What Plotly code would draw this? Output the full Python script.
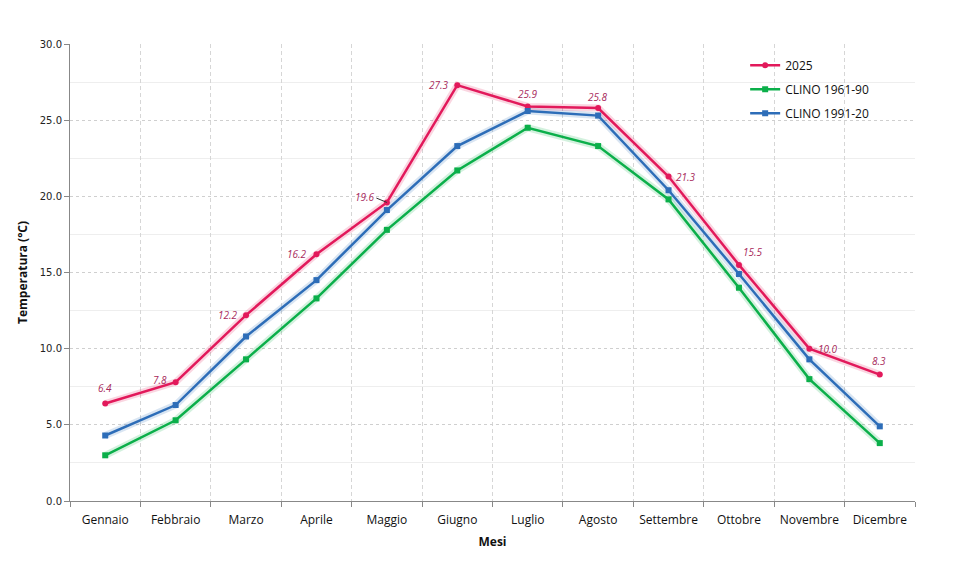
import plotly.graph_objects as go

months = ["Gennaio", "Febbraio", "Marzo", "Aprile", "Maggio", "Giugno",
          "Luglio", "Agosto", "Settembre", "Ottobre", "Novembre", "Dicembre"]
t2025 = [6.4, 7.8, 12.2, 16.2, 19.6, 27.3, 25.9, 25.8, 21.3, 15.5, 10.0, 8.3]
clino6190 = [3.0, 5.3, 9.3, 13.3, 17.8, 21.7, 24.5, 23.3, 19.8, 14.0, 8.0, 3.8]
clino9120 = [4.3, 6.3, 10.8, 14.5, 19.1, 23.3, 25.6, 25.3, 20.4, 14.9, 9.3, 4.9]

C25 = "#E2195B"
CG = "#0BAF4A"
CB = "#2D6DB8"

fig = go.Figure()

# soft glow under lines
for vals, col in [(clino6190, "rgba(11,175,74,0.18)"), (clino9120, "rgba(45,109,184,0.18)"),
                  (t2025, "rgba(226,25,91,0.18)")]:
    fig.add_trace(go.Scatter(x=months, y=vals, mode="lines", line=dict(color=col, width=7),
                             showlegend=False, hoverinfo="skip"))

fig.add_trace(go.Scatter(x=months, y=t2025, name="2025", mode="lines+markers",
                         legendgroup="a",
                         line=dict(color=C25, width=2.5),
                         marker=dict(symbol="circle", size=6, color=C25)))
fig.add_trace(go.Scatter(x=months, y=clino6190, name="CLINO 1961-90", mode="lines+markers",
                         legendgroup="b",
                         line=dict(color=CG, width=2.5),
                         marker=dict(symbol="square", size=6, color=CG)))
fig.add_trace(go.Scatter(x=months, y=clino9120, name="CLINO 1991-20", mode="lines+markers",
                         legendgroup="c",
                         line=dict(color=CB, width=2.5),
                         marker=dict(symbol="square", size=6, color=CB)))

# label offsets (xshift, yshift) per point
offsets = [(0, 16), (-16, 2), (-18, 0), (-19, 0), (-22, 5), (-18, 0),
           (0, 12), (0, 11), (17, 0), (14, 13), (19, 0), (-1, 14)]
for m, v, (dx, dy) in zip(months, t2025, offsets):
    fig.add_annotation(x=m, y=v, text=f"<i>{v:.1f}</i>", showarrow=False, xshift=dx, yshift=dy,
                       font=dict(family="Open Sans, Arial", size=10, color="#A82A5C"))

# leader line for 19.6
fig.add_annotation(x="Maggio", y=19.6, ax=-12, ay=-5, axref="pixel", ayref="pixel",
                   text="", showarrow=True, arrowhead=0, arrowwidth=1, arrowcolor="#333")

fig.update_layout(
    width=980, height=576,
    paper_bgcolor="white", plot_bgcolor="white",
    margin=dict(l=62, r=73, t=36, b=83),
    font=dict(family="DejaVu Sans, Verdana", size=10, color="#222"),
    legend=dict(x=0.799, y=0.985, xanchor="left", yanchor="top",
                bgcolor="rgba(255,255,255,0)", tracegroupgap=5,
                font=dict(family="Open Sans, Arial", size=12, color="#111"),
                itemwidth=30),
    xaxis=dict(
        title=dict(text="<b>Mesi</b>", font=dict(family="Open Sans, Arial", size=12, color="#111"),
                   standoff=10),
        tickson="boundaries", ticks="outside", ticklen=5, tickcolor="#888",
        ticklabelstandoff=8,
        showline=True, linecolor="#888", linewidth=1,
        showgrid=True, gridcolor="#D6D6D6", griddash="4px,3px", gridwidth=1,
        tickfont=dict(family="Open Sans, Arial", size=12, color="#111"),
        range=[-0.5, 11.5],
    ),
    yaxis=dict(
        title=dict(text="<b>Temperatura (°C)</b>", font=dict(family="Open Sans, Arial", size=12, color="#111"),
                   standoff=9),
        range=[0, 30], dtick=5, tickformat=".1f",
        ticks="outside", ticklen=5, tickcolor="#888",
        showline=True, linecolor="#888", linewidth=1,
        showgrid=True, gridcolor="#CFCFCF", griddash="3px,3px", gridwidth=1,
        minor=dict(dtick=2.5, showgrid=True, gridcolor="#EEEEEE", gridwidth=1, griddash="solid"),
        zeroline=False,
        tickfont=dict(family="DejaVu Sans, Verdana", size=10, color="#222"),
    ),
)

fig.write_html("out.html")
